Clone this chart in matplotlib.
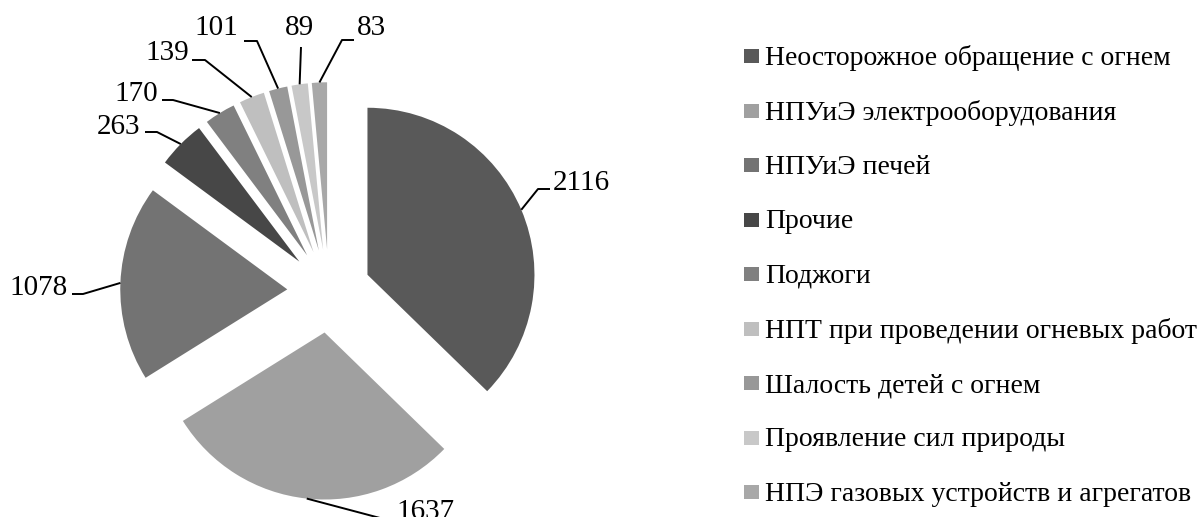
import matplotlib
matplotlib.use("Agg")
import matplotlib.pyplot as plt
from matplotlib.patches import Rectangle
import numpy as np

# ---- data ----
categories = [
    "Неосторожное обращение с огнем",
    "НПУиЭ электрооборудования",
    "НПУиЭ печей",
    "Прочие",
    "Поджоги",
    "НПТ при проведении огневых работ",
    "Шалость детей с огнем",
    "Проявление сил природы",
    "НПЭ газовых устройств и агрегатов",
]
values = [2116, 1637, 1078, 263, 170, 139, 101, 89, 83]
colors = ["#595959", "#a0a0a0", "#737373", "#474747", "#808080",
          "#bfbfbf", "#989898", "#c8c8c8", "#a8a8a8"]

# ---- layout (pixels of the 1202x517 canvas) ----
W, H = 1202, 517
CX, CY, RPX = 329, 291, 167     # pie centre and radius in pixels
EXPLODE = 0.25

# label layout: (text x, text baseline y, ha, leader path points after the anchor)
label_layout = [
    (553, 190, "left",  [(538, 189), (550, 189)]),
    (396, 519, "left",  [(380, 518), (392, 518)]),
    (68, 295, "right",  [(83, 294), (72, 294)]),
    (140, 134, "right", [(157, 132), (145, 132)]),
    (158, 101, "right", [(173, 100), (162, 100)]),
    (189, 60, "right",  [(205, 60), (192, 60)]),
    (238, 35, "right",  [(257, 41), (244, 41)]),
    (299, 35, "center", [(301, 47)]),
    (357, 35, "left",   [(342, 40), (354, 40)]),
]


def P(px, py):
    return (px - CX) / RPX, (CY - py) / RPX


plt.rcParams["font.family"] = ["Liberation Serif", "DejaVu Serif"]
FS_LAB = 21
FS_LEG = 20

fig = plt.figure(figsize=(W / 100, H / 100), dpi=100)
ax = fig.add_axes([0, 0, 1, 1])
wedges, _ = ax.pie(values, colors=colors, startangle=90, counterclock=False,
                   explode=[EXPLODE] * len(values), radius=1,
                   wedgeprops=dict(linewidth=0))
ax.set_xlim(P(0, 0)[0], P(W, 0)[0])
ax.set_ylim(P(0, H)[1], P(0, 0)[1])
ax.set_aspect("equal", adjustable="box")
ax.axis("off")

for w, v, (tx, ty, ha, path) in zip(wedges, values, label_layout):
    mid = np.deg2rad((w.theta1 + w.theta2) / 2)
    cx, cy = w.center
    ax_x = cx + w.r * np.cos(mid)
    ax_y = cy + w.r * np.sin(mid)
    xs = [ax_x] + [P(*p)[0] for p in path]
    ys = [ax_y] + [P(*p)[1] for p in path]
    ax.plot(xs, ys, color="black", lw=1.4, solid_capstyle="butt")
    x, y = P(tx, ty)
    ax.text(x, y, str(v), ha=ha, va="baseline", fontsize=FS_LAB, color="black")

# legend
for i, (cat, col) in enumerate(zip(categories, colors)):
    yc = 56 + 54.5 * i
    x0, y0 = P(744, yc + 7)
    ax.add_patch(Rectangle((x0, y0), 15 / RPX, 14 / RPX, facecolor=col,
                           edgecolor="none"))
    x, y = P(765, yc + 9)
    ax.text(x, y, cat, ha="left", va="baseline", fontsize=FS_LEG, color="black")

fig.savefig("out.png", dpi=100)
